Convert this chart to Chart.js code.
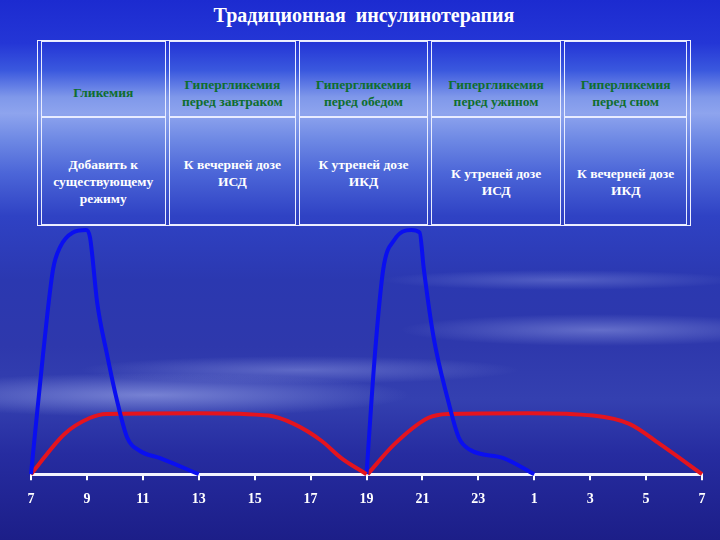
<!DOCTYPE html>
<html>
<head>
  <title>Традиционная инсулинотерапия</title>
  <script src="https://cdn.jsdelivr.net/npm/chart.js@4.4.0/dist/chart.umd.min.js"></script>
  <style>
    body {
      margin: 0;
      width: 720px;
      height: 540px;
      overflow: hidden;
      position: relative;
      font-family: "Liberation Serif", "DejaVu Serif", serif;
      background:
        radial-gradient(ellipse 260px 22px at 150px 395px, rgba(200,210,255,0.45), rgba(200,210,255,0) 100%),
        radial-gradient(ellipse 220px 14px at 300px 370px, rgba(200,210,255,0.30), rgba(200,210,255,0) 100%),
        radial-gradient(ellipse 200px 16px at 600px 330px, rgba(200,210,255,0.35), rgba(200,210,255,0) 100%),
        radial-gradient(ellipse 180px 10px at 560px 280px, rgba(200,210,255,0.25), rgba(200,210,255,0) 100%),
        linear-gradient(to bottom, #1c2bd0 0%, #2436d6 8%, #3a58de 13%, #7f98ea 18%, #8ea4ee 21%, #6d88e4 26%, #4c66d8 32%, #2f42c4 40%, #2b38b0 52%, #2e38ac 64%, #3440b0 74%, #262ca0 84%, #1c1e88 100%);
    }
    #title {
      position: absolute; left: 0; top: 4px; width: 728px;
      text-align: center; color: #fff; font-weight: bold; font-size: 20px;
      white-space: pre;
    }
    table {
      position: absolute; left: 37px; top: 40px; width: 654px; height: 186px;
      border: 1.5px solid #f0f0ff; border-spacing: 3px 0; border-collapse: separate;
      table-layout: fixed;
    }
    td {
      border: 1px solid #e8ecff; text-align: center; font-weight: bold;
      font-size: 13.5px; line-height: 17px; padding: 0; white-space: nowrap;
    }
    tr.head td { color: #0e6e2e; height: 76px; vertical-align: top; padding-top: 34px; box-sizing: border-box; }
    tr.body td { color: #fff; vertical-align: top; padding-top: 38px; }
    td.mid { padding-top: 47px !important; }
    #wrap { position: absolute; left: 0; top: 0; width: 720px; height: 540px; }
  </style>
</head>
<body>
  <div id="title">Традиционная  инсулинотерапия</div>
  <table>
    <colgroup><col style="width:124px"><col style="width:127px"><col style="width:128px"><col style="width:130px"><col style="width:122px"></colgroup>
    <tr class="head">
      <td style="padding-top:42px">Гликемия</td>
      <td>Гипергликемия<br>перед завтраком</td>
      <td>Гипергликемия<br>перед обедом</td>
      <td>Гипергликемия<br>перед ужином</td>
      <td>Гиперликемия<br>перед сном</td>
    </tr>
    <tr class="body">
      <td>Добавить к<br>существующему<br>режиму</td>
      <td>К вечерней дозе<br>ИСД</td>
      <td>К утреней дозе<br>ИКД</td>
      <td class="mid">К утреней дозе<br>ИСД</td>
      <td class="mid">К вечерней дозе<br>ИКД</td>
    </tr>
  </table>
  <div id="wrap"><canvas id="myChart" width="720" height="540"></canvas></div>
  <script>
    // hours run 7..31 (31 = 7 next morning), levels 0..100
    var morningShortHours = [7, 7.43, 7.79, 8.04, 8.5, 8.97, 9.11, 9.37, 9.72, 10.08, 10.44, 10.9, 11.62, 13];
    var morningShortLevels = [0, 49, 84, 93, 99, 100, 97, 70, 49, 30, 15, 9.5, 6.6, 0];
    var dayLongHours = [7, 8.2, 9.1, 9.7, 13, 15.5, 16.4, 17.4, 18.1, 19];
    var dayLongLevels = [0, 16.5, 23, 24.7, 25, 24, 20.6, 13.6, 6.6, 0];
    var eveningShortHours = [19, 19.3, 19.6, 20, 20.6, 20.9, 21.05, 21.4, 21.9, 22.3, 22.7, 23.9, 25];
    var eveningShortLevels = [0, 49, 84, 96, 100, 99, 84, 56, 31, 15, 10, 6.6, 0];
    var nightLongHours = [19.04, 20, 21.2, 21.9, 24.8, 27.1, 28.4, 29.5, 31];
    var nightLongLevels = [0, 12.3, 23, 24.7, 25, 24, 20.6, 12.3, 0];

    function pts(hours, levels) {
      return hours.map((h, i) => ({ x: h, y: levels[i] }));
    }

    var blue = '#0a0ff0';
    var red = '#e4141e';

    function line(data, color) {
      return {
        data: data,
        borderColor: color,
        borderWidth: 4,
        pointRadius: 0,
        cubicInterpolationMode: 'monotone',
        fill: false,
        clip: false
      };
    }

    var ctx = document.getElementById('myChart').getContext('2d');
    var myChart = new Chart(ctx, {
      type: 'line',
      data: {
        datasets: [
          line(pts(morningShortHours, morningShortLevels), blue),
          line(pts(dayLongHours, dayLongLevels), red),
          line(pts(eveningShortHours, eveningShortLevels), blue),
          line(pts(nightLongHours, nightLongLevels), red)
        ]
      },
      options: {
        responsive: false,
        animation: false,
        layout: { padding: { left: 31, right: 18, top: 230, bottom: 21 } },
        plugins: { legend: { display: false }, tooltip: { enabled: false } },
        scales: {
          x: {
            type: 'linear',
            min: 7,
            max: 31,
            ticks: {
              stepSize: 2,
              color: '#fff',
              padding: 11,
              font: { family: 'Liberation Serif', size: 14, weight: 'bold' },
              callback: v => (v > 24 ? v - 24 : v)
            },
            grid: { drawOnChartArea: false, drawTicks: true, tickLength: 6, color: '#fff', lineWidth: 2 },
            border: { display: true, color: '#f4f4ff', width: 3 }
          },
          y: { display: false, min: 0, max: 100 }
        }
      }
    });
  </script>
</body>
</html>
